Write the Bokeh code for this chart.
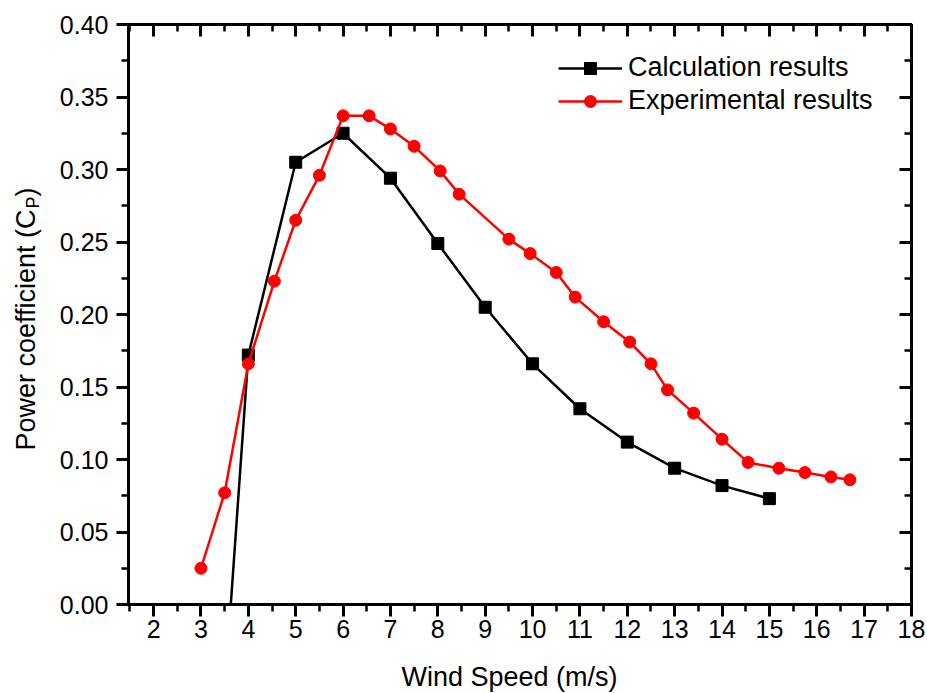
import math
from bokeh.plotting import figure
from bokeh.layouts import row, column
from bokeh.models import (Range1d, LinearAxis, FixedTicker, NumeralTickFormatter,
                          Legend, LegendItem, CustomJSTickFormatter)
from bokeh.core.properties import value
from bokeh.embed import file_html
from bokeh.resources import INLINE

# ---- data ----
calc_speed = [3.5, 4, 5, 6, 7, 8, 9, 10, 11, 12, 13, 14, 15]
calc_cp = [-0.06, 0.172, 0.305, 0.325, 0.294, 0.249, 0.205, 0.166, 0.135, 0.112, 0.094, 0.082, 0.073]

exp_speed = [3.0, 3.5, 4.0, 4.55, 5.0, 5.5, 6.0, 6.55, 7.0, 7.5, 8.05, 8.45, 9.5, 9.95,
             10.5, 10.9, 11.5, 12.05, 12.5, 12.85, 13.4, 14.0, 14.55, 15.2, 15.75, 16.3, 16.7]
exp_cp = [0.025, 0.077, 0.166, 0.223, 0.265, 0.296, 0.337, 0.337, 0.328, 0.316, 0.299, 0.283,
          0.252, 0.242, 0.229, 0.212, 0.195, 0.181, 0.166, 0.148, 0.132, 0.114, 0.098, 0.094,
          0.091, 0.088, 0.086]

x_major = list(range(2, 19))
x_minor = [v + 0.5 for v in range(1, 18)]
y_major = [0.0, 0.05, 0.10, 0.15, 0.20, 0.25, 0.30, 0.35, 0.40]
y_minor = [0.025 + 0.05 * i for i in range(8)]

series_names = ["Calculation results", "Experimental results"]
x_title = "Wind Speed (m/s)"
y_title_parts = ["Power coefficient (C", "P", ")"]

FONT = "Liberation Sans"

def strip(width, height, xr, yr, **borders):
    f = figure(width=width, height=height, output_backend="svg", toolbar_location=None,
               x_range=Range1d(*xr), y_range=Range1d(*yr),
               x_axis_type=None, y_axis_type=None, outline_line_color=None,
               background_fill_color="white", border_fill_color="white", **borders)
    f.grid.visible = False
    return f

# ---- narrow strip holding the rotated y title (C with subscript P) ----
# frame spans the same pixels as the main frame; units = pixels from page bottom
side = strip(50, 653, (0, 50), (89, 669), min_border_left=0, min_border_right=0,
             min_border_top=24, min_border_bottom=49)
side.text(x=[25], y=[243], text=[y_title_parts[0]], angle=math.pi / 2,
          text_align="left", text_baseline="middle", text_font=value(FONT),
          text_font_size="27px", text_color="black")
side.text(x=[32], y=[485], text=[y_title_parts[1]], angle=math.pi / 2,
          text_align="left", text_baseline="middle", text_font=value(FONT),
          text_font_size="18px", text_color="black")
side.text(x=[25], y=[497], text=[y_title_parts[2]], angle=math.pi / 2,
          text_align="left", text_baseline="middle", text_font=value(FONT),
          text_font_size="27px", text_color="black")

# ---- main chart ----
p = figure(width=877, height=653, output_backend="svg", toolbar_location=None,
           x_range=Range1d(1.47, 18), y_range=Range1d(0, 0.4),
           min_border_left=78, min_border_right=16, min_border_top=24, min_border_bottom=49,
           background_fill_color="white", border_fill_color="white")
p.grid.visible = False
p.outline_line_color = "black"
p.outline_line_width = 3

xt = FixedTicker(ticks=x_major, minor_ticks=x_minor)
yt = FixedTicker(ticks=y_major, minor_ticks=y_minor)

def style(ax, inward):
    ax.axis_line_width = 3
    ax.axis_line_color = "black"
    ax.major_tick_line_width = 3
    ax.minor_tick_line_width = 2.5
    ax.major_tick_line_color = "black"
    ax.minor_tick_line_color = "black"
    if inward:
        ax.major_tick_in, ax.major_tick_out = 12, 0
        ax.minor_tick_in, ax.minor_tick_out = 7, 0
        ax.formatter = CustomJSTickFormatter(code="return ''")
        ax.major_label_standoff = 0
    else:
        ax.major_tick_in, ax.major_tick_out = 0, 12
        ax.minor_tick_in, ax.minor_tick_out = 0, 7
        ax.major_label_text_font = FONT
        ax.major_label_text_font_size = "25px"
        ax.major_label_text_color = "black"

p.xaxis.ticker = xt
p.yaxis.ticker = yt
style(p.xaxis[0], False)
style(p.yaxis[0], False)
p.xaxis.major_label_standoff = 3
p.yaxis.major_label_standoff = 8
p.yaxis.formatter = NumeralTickFormatter(format="0.00")

top = LinearAxis(ticker=xt)
right = LinearAxis(ticker=yt)
style(top, True)
style(right, True)
p.add_layout(top, "above")
p.add_layout(right, "right")

l1 = p.line(calc_speed, calc_cp, line_color="black", line_width=2.5)
s1 = p.scatter(calc_speed, calc_cp, marker="square", size=12, color="black")
l2 = p.line(exp_speed, exp_cp, line_color="red", line_width=2.5)
s2 = p.scatter(exp_speed, exp_cp, marker="circle", size=12, color="red")

legend = Legend(items=[LegendItem(label=series_names[0], renderers=[l1, s1]),
                       LegendItem(label=series_names[1], renderers=[l2, s2])],
                location=(430, 488), border_line_alpha=0, background_fill_alpha=0,
                padding=0, margin=0, spacing=2, glyph_width=64, glyph_height=30,
                label_height=30, label_standoff=6, label_text_font=FONT,
                label_text_font_size="27px", label_text_color="black")
p.add_layout(legend)

# ---- bottom strip holding the x title; units = page pixels ----
bottom = strip(927, 40, (128, 911), (0, 40), min_border_left=128, min_border_right=16,
               min_border_top=0, min_border_bottom=0)
bottom.text(x=[509], y=[17], text=[x_title], text_align="center", text_baseline="middle",
            text_font=value(FONT), text_font_size="27px", text_color="black")

layout = column(row(side, p, spacing=0), bottom, spacing=0)
open("out.html", "w").write(file_html(layout, INLINE))
